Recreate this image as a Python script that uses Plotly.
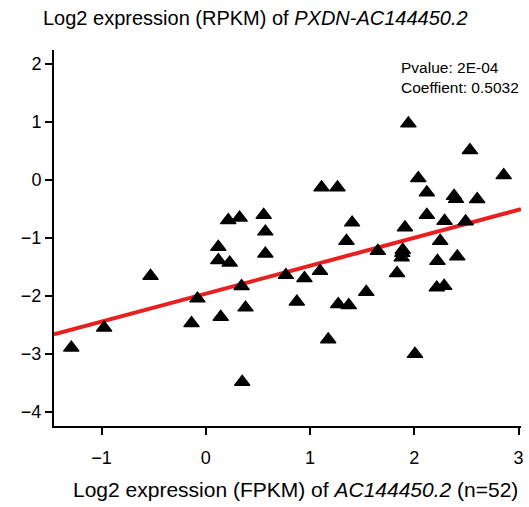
import plotly.graph_objects as go

# Data (log2 FPKM of AC144450.2 vs log2 RPKM of PXDN-AC144450.2)
x_vals = [-1.29, -0.975, -0.53, -0.08, -0.137, 0.215, 0.324, 0.555, 0.571, 0.571,
          0.12, 0.12, 0.229, 0.343, 0.381, 0.143, 0.349, 0.768, 0.946, 0.873,
          1.095, 1.11, 1.263, 1.403, 1.349, 1.65, 1.91, 1.889, 1.879, 1.834,
          1.539, 1.27, 1.371, 1.174, 2.006, 1.943, 2.533, 2.857, 2.038, 2.12,
          2.381, 2.40, 2.603, 2.12, 2.29, 2.492, 2.248, 2.222, 2.412, 2.215,
          2.286, 1.885]
y_vals = [-2.89, -2.545, -1.655, -2.045, -2.47, -0.695, -0.65, -0.603, -0.89, -1.27,
          -1.155, -1.385, -1.425, -1.83, -2.2, -2.36, -3.48, -1.64, -1.695, -2.097,
          -1.57, -0.13, -0.13, -0.735, -1.05, -1.224, -0.82, -1.207, -1.338, -1.609,
          -1.93, -2.14, -2.16, -2.75, -3.0, 0.972, 0.512, 0.081, 0.029, -0.217,
          -0.276, -0.33, -0.333, -0.603, -0.707, -0.717, -1.05, -1.397, -1.32, -1.855,
          -1.828, -1.26]

fit_intercept = -1.96
fit_slope = 0.482

x_range = [-1.456, 3.023]
y_range = [-4.24, 2.24]
x_ticks = [-1, 0, 1, 2, 3]
y_ticks = [-4, -3, -2, -1, 0, 1, 2]

title_text = "Log2 expression (RPKM) of <i>PXDN-AC144450.2</i>"
xtitle_text = "Log2 expression (FPKM) of <i>AC144450.2</i> (n=52)"
stats_text = "Pvalue: 2E-04<br>Coeffient: 0.5032"

FONT = "Liberation Sans, Arial, Helvetica, sans-serif"

fig = go.Figure()

fig.add_trace(go.Scatter(
    x=x_range,
    y=[fit_intercept + fit_slope * v for v in x_range],
    mode="lines",
    line=dict(color="rgb(232,32,32)", width=4),
    hoverinfo="skip",
    showlegend=False,
))

fig.add_trace(go.Scatter(
    x=x_vals, y=y_vals,
    mode="markers",
    marker=dict(symbol="triangle-up", size=13.5, color="black",
                line=dict(color="black", width=1.2)),
    showlegend=False,
))

W, H = 529, 507
ml, mr, mt, mb = 54, 5, 50, 81
pw = W - ml - mr

fig.update_layout(
    width=W, height=H,
    margin=dict(l=ml, r=mr, t=mt, b=mb, pad=0),
    paper_bgcolor="white", plot_bgcolor="white",
    font=dict(family=FONT, color="black", size=18),
    xaxis=dict(range=x_range, tickvals=x_ticks, showgrid=False, zeroline=False,
               showline=True, linecolor="black", linewidth=2,
               ticks="outside", ticklen=7, tickwidth=2, tickcolor="black",
               ticklabelstandoff=7,
               tickfont=dict(size=18, family=FONT)),
    yaxis=dict(range=y_range, tickvals=y_ticks, showgrid=False, zeroline=False,
               showline=True, linecolor="black", linewidth=2,
               ticks="outside", ticklen=7, tickwidth=2, tickcolor="black",
               tickfont=dict(size=18, family=FONT)),
    annotations=[
        dict(text=title_text, xref="paper", yref="paper",
             x=(257 - ml) / pw, y=1 + (mt - 18) / (H - mt - mb),
             xanchor="center", yanchor="middle", showarrow=False,
             font=dict(size=20, family=FONT)),
        dict(text=xtitle_text, xref="paper", yref="paper",
             x=(297 - ml) / pw, y=-(489 - (H - mb)) / (H - mt - mb),
             xanchor="center", yanchor="middle", showarrow=False,
             font=dict(size=21, family=FONT)),
        dict(text=stats_text, xref="paper", yref="paper",
             x=(401 - ml) / pw, y=1 - (77 - mt) / (H - mt - mb),
             xanchor="left", yanchor="middle", align="left", showarrow=False,
             font=dict(size=15.5, family=FONT)),
    ],
)

fig.write_html("out.html")
